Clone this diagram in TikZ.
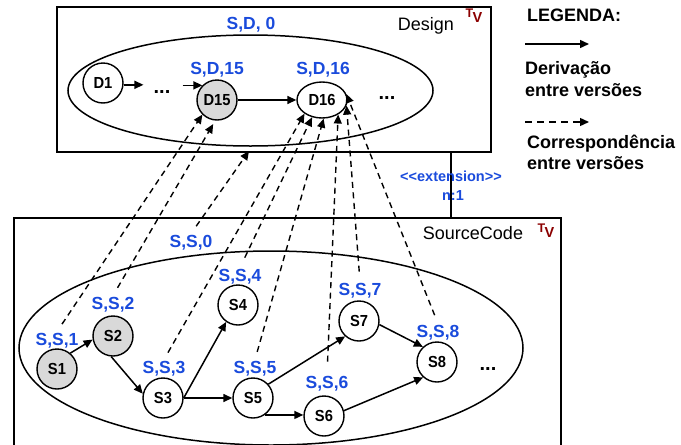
\documentclass[tikz,border=0pt]{standalone}
\usepackage{fontspec}
\setmainfont{Liberation Sans}
\usetikzlibrary{arrows.meta,shapes.geometric}
\definecolor{verblue}{HTML}{1A4BDC}
\definecolor{tvred}{HTML}{8B0000}
\definecolor{nodegray}{HTML}{D9D9D9}
\newcommand{\setfs}[1]{\fontsize{#1}{#1}\selectfont}
\newcommand{\tvmark}{\bfseries\setfs{12.5}T\kern-0.6pt\raisebox{-5pt}{\setfs{14.5}V}}
\newcommand{\vlabel}[1]{\scalebox{0.92}[1]{#1}}

\begin{document}
\begin{tikzpicture}[x=1pt,y=-1pt,
  box/.style={draw,line width=2pt,rectangle,inner sep=0pt},
  setell/.style={draw,line width=1.5pt,ellipse,inner sep=0pt},
  ver/.style={draw,line width=1.4pt,circle,minimum size=40pt,inner sep=0pt,font=\bfseries\setfs{16}},
  lab/.style={text=verblue,font=\bfseries\setfs{17.5},inner sep=1pt,anchor=base},
  dots/.style={font=\bfseries\setfs{20},inner sep=0pt},
  title/.style={font=\setfs{18},inner sep=0pt,anchor=base},
  leg/.style={font=\bfseries\setfs{18},inner sep=0pt,anchor=base west},
  extlab/.style={text=verblue,font=\bfseries\setfs{14.5},inner sep=0pt,anchor=base},
  tv/.style={text=tvred,inner sep=0pt},
  deriv/.style={line width=1.5pt,-{Triangle[length=9pt,width=8pt]}},
  corr/.style={line width=1.4pt,dash pattern=on 6pt off 4.5pt,-{Triangle[length=9pt,width=8pt]}},
]
\useasboundingbox (0,0) rectangle (681,445);

% ---------- Design model ----------
\node[box,minimum width=434pt,minimum height=145pt] (designbox) at (274,79.5) {};
\node[setell,minimum width=365pt,minimum height=111pt] (dset) at (250.5,90.5) {};
\node[title] (dname) at (426,30) {Design};
\node[tv] (dtv) at (474,16) {\tvmark};

\node[ver] (D1) at (103,83) {\vlabel{D1}};
\node[ver,fill=nodegray] (D15) at (217,100) {\vlabel{D15}};
\node[ver,ellipse,minimum width=50pt,minimum height=36pt] (D16) at (322,100) {\vlabel{D16}};
\node[dots] (dA) at (162,92) {...};
\node[dots] (dB) at (387,98) {...};

\node[lab] (lsd0) at (251,29) {S,D, 0};
\node[lab] (lsd15) at (217,74) {S,D,15};
\node[lab] (lsd16) at (323,74) {S,D,16};

\draw[deriv,shorten >=10pt] (D1.-5) -- (D1.-5 -| dA.west);
\draw[deriv,shorten <=12pt] (dA.east |- D15.135) -- (D15.135);
\draw[deriv] (D15.east) -- (D16.west);

% ---------- SourceCode model ----------
\node[box,minimum width=547pt,minimum height=250pt,anchor=north west] (srcbox) at (13,217) {};
\node[setell,minimum width=504pt,minimum height=194pt] (sset) at (271,348) {};
\node[title] (sname) at (473,239) {SourceCode};
\node[tv] (stv) at (546,231) {\tvmark};

\node[ver,fill=nodegray] (S1) at (57,369) {\vlabel{S1}};
\node[ver,fill=nodegray] (S2) at (113,336) {\vlabel{S2}};
\node[ver] (S3) at (163,398) {\vlabel{S3}};
\node[ver] (S4) at (238,305) {\vlabel{S4}};
\node[ver] (S5) at (253,398) {\vlabel{S5}};
\node[ver] (S6) at (324,416) {\vlabel{S6}};
\node[ver] (S7) at (359,321) {\vlabel{S7}};
\node[ver] (S8) at (437,362) {\vlabel{S8}};
\node[dots] (dC) at (488,369) {...};

\node[lab] (ls0) at (191,247) {S,S,0};
\node[lab] (ls1) at (57,345) {S,S,1};
\node[lab] (ls2) at (113,309) {S,S,2};
\node[lab] (ls3) at (164,373) {S,S,3};
\node[lab] (ls4) at (240,281) {S,S,4};
\node[lab] (ls5) at (255,373) {S,S,5};
\node[lab] (ls6) at (327,388) {S,S,6};
\node[lab] (ls7) at (360,295) {S,S,7};
\node[lab] (ls8) at (438,337) {S,S,8};

\draw[deriv] (S1.50) -- (S2.190);
\draw[deriv] (S2.265) -- (S3.168);
\draw[deriv] (S3.east) -- (S4.235);
\draw[deriv] (S3.east) -- (S5.west);
\draw[deriv] (S5.42) -- (S7.228);
\draw[deriv] (S5.-55) -- (S5.-55 -| S6.west);
\draw[deriv] (S6.15) -- (S8.228);
\draw[deriv] (S7.-10) -- (S8.133);

% ---------- extension link ----------
\coordinate (ext) at (451,0);
\draw[line width=2pt] (designbox.south -| ext) -- (srcbox.north -| ext);
\node[extlab] (extl) at (451,181) {<\kern0pt<extension>\kern0pt>};
\node[extlab] (extn) at (453,200) {n:1};

% ---------- version correspondences ----------
\coordinate (dbot) at (249,151);
\draw[corr,shorten <=9pt] (ls1.north) -- (D15.225);
\draw[corr,shorten <=9pt,shorten >=4pt] (ls2.north) -- (D15.265);
\draw[corr,shorten <=9pt] (ls0.north) -- (dbot);
\draw[corr,shorten <=8pt] (ls3.north) -- (D16.218);
\draw[corr,shorten <=11pt] (ls4.north) -- (D16.240);
\draw[corr,shorten <=8pt] (ls5.north) -- (D16.275);
\draw[corr,shorten <=13pt] (ls6.north) -- (D16.318);
\draw[corr,shorten <=10pt] (ls7.north) -- (D16.347);
\draw[corr,shorten <=9pt] (ls8.north) -- (D16.14);

% ---------- legend ----------
\node[leg] (legT) at (527,21) {LEGENDA:};
\coordinate (lg1a) at (525,44);
\coordinate (lg1b) at (589,44);
\draw[deriv] (lg1a) -- (lg1b);
\node[leg] (legD1) at (525,74) {Derivação};
\node[leg] (legD2) at (525,96) {entre versões};
\coordinate (lg2a) at (525,122);
\coordinate (lg2b) at (589,122);
\draw[corr,dash pattern=on 7pt off 5pt] (lg2a) -- (lg2b);
\node[leg] (legC1) at (527,148) {Correspondência};
\node[leg] (legC2) at (527,169) {entre versões};
\end{tikzpicture}
\end{document}
